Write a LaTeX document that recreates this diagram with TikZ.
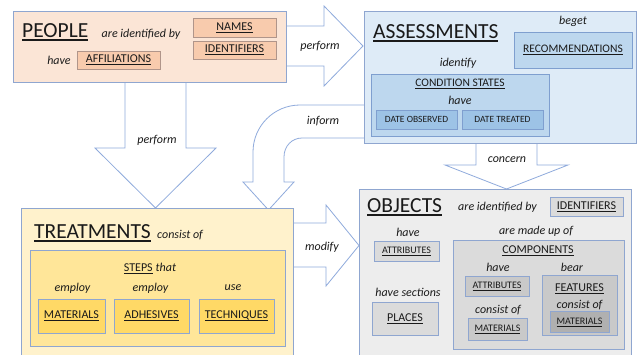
\documentclass[tikz,border=0pt]{standalone}
\usepackage{fontspec}
\setmainfont{Carlito}
\newcommand{\myul}[2][0.55pt]{\setbox0=\hbox{#2}\leavevmode\rlap{\rule[-0.17em]{\wd0}{#1}}\box0}
\newcommand{\fs}[1]{\fontsize{#1}{#1}\selectfont}
\definecolor{txt}{HTML}{1A1A1A}
\definecolor{arw}{HTML}{8FAADC}
\definecolor{bord}{HTML}{8FA6D0}
\definecolor{peach}{HTML}{FBE5D6}
\definecolor{peachin}{HTML}{F8CBAD}
\definecolor{peachbd}{HTML}{B0958A}
\definecolor{blueA}{HTML}{DEEBF7}
\definecolor{blueB}{HTML}{BDD7EE}
\definecolor{blueC}{HTML}{9DC3E6}
\definecolor{blueBd}{HTML}{7F9FCF}
\definecolor{yelA}{HTML}{FFF2CC}
\definecolor{yelB}{HTML}{FFE699}
\definecolor{yelC}{HTML}{FFD966}
\definecolor{greyA}{HTML}{EDEDED}
\definecolor{greyB}{HTML}{DBDBDB}
\definecolor{greyC}{HTML}{C9C9C9}
\definecolor{greyD}{HTML}{B0B0B0}
\begin{document}
\begin{tikzpicture}[x=1pt,y=-1pt,
  outer/.style={draw=bord, line width=0.8pt, anchor=north west, inner sep=0pt},
  item/.style={draw=bord, line width=0.7pt, inner sep=0pt, text=txt, font=\fs{12}},
  small/.style={item, font=\fs{10}},
  lbl/.style={text=txt, inner sep=0pt, font=\fs{12}\itshape},
  title/.style={text=txt, inner sep=0pt, anchor=base west, font=\fs{21.5}},
  blockarrow/.style={fill=white, draw=arw, line width=0.8pt, line join=miter}
]
\useasboundingbox (0,0) rectangle (638,354);
\clip (0,0) rectangle (638,354);
\fill[white] (0,0) rectangle (638,354);

% ---------- block arrows ----------
\draw[blockarrow] (286,26) -- (324,26) -- (324,6) -- (363,46) -- (324,86) -- (324,66) -- (286,66);
\draw[blockarrow] (125,82) -- (125,148) -- (95,148) -- (155.5,208) -- (216,148) -- (186,148) -- (186,82);
\draw[blockarrow] (476,143) -- (476,165) -- (445,165) -- (506.5,189) -- (568,165) -- (537,165) -- (537,143);
\draw[blockarrow] (293,223) -- (326,223) -- (326,205) -- (359,245.5) -- (326,286) -- (326,267) -- (293,267);
\draw[blockarrow] (364,105) -- (300,105) .. controls (274,105) and (253,126) .. (253,152) -- (253,182) -- (243,182) -- (268.5,210) -- (294,182) -- (284,182) -- (284,157) .. controls (284,146) and (292,138) .. (302,138) -- (364,138);

\node[lbl] (lperf1) at (320,46) {perform};
\node[lbl] (lperf2) at (157,140) {perform};
\node[lbl] (lconc) at (507,160) {concern};
\node[lbl] (lmod) at (322,247) {modify};
\node[lbl] (linf) at (323,121) {inform};

% ---------- PEOPLE ----------
\node[outer, fill=peach, minimum width=273pt, minimum height=71pt] (people) at (13,11) {};
\node[title] (peopleT) at (22,37) {\myul[1.2pt]{PEOPLE}};
\node[lbl] (pid) at (141,34) {are identified by};
\node[lbl] (phave) at (59,60) {have};
\node[item, draw=peachbd, fill=peachin, minimum width=83pt, minimum height=19pt] (names) at (234.5,27.5) {\myul{NAMES}};
\node[item, draw=peachbd, fill=peachin, minimum width=83pt, minimum height=18pt] (pident) at (234.5,50) {\myul{IDENTIFIERS}};
\node[item, draw=peachbd, fill=peachin, minimum width=83pt, minimum height=18pt] (affil) at (118.5,60) {\myul{AFFILIATIONS}};

% ---------- ASSESSMENTS ----------
\node[outer, fill=blueA, minimum width=272pt, minimum height=132pt] (assess) at (364,11) {};
\node[title] (assessT) at (373,38) {\myul[1.2pt]{ASSESSMENTS}};
\node[lbl] (beget) at (573,21) {beget};
\node[item, draw=blueBd, fill=blueB, font=\fs{11.5}, minimum width=118pt, minimum height=36pt] (recomm) at (573,50) {\myul{RECOMMENDATIONS}};
\node[lbl] (identify) at (458,63) {identify};
\node[outer, draw=blueBd, fill=blueB, minimum width=178pt, minimum height=62pt] (cond) at (371,74) {};
\node[text=txt, inner sep=0pt, font=\fs{11.5}] (condT) at (460,84) {\myul{CONDITION STATES}};
\node[lbl] (chave) at (460,100) {have};
\node[item, draw=blueBd, fill=blueC, font=\fs{9.5}, minimum width=81pt, minimum height=19pt] (dobs) at (416.5,119.5) {DATE OBSERVED};
\node[item, draw=blueBd, fill=blueC, font=\fs{9.5}, minimum width=81pt, minimum height=19pt] (dtr) at (502.5,119.5) {DATE TREATED};

% ---------- TREATMENTS ----------
\node[outer, fill=yelA, minimum width=272pt, minimum height=160pt] (treat) at (21,208) {};
\node[title] (treatT) at (34,238) {\myul[1.2pt]{TREATMENTS}};
\node[lbl, anchor=base west] (tcons) at (157,238) {consist of};
\node[outer, fill=yelB, minimum width=255pt, minimum height=96pt] (steps) at (30,250) {};
\node[text=txt, inner sep=0pt, font=\fs{12}] (stepsT) at (150,268) {\myul{STEPS}\hspace{0.25em}\textit{that}};
\node[lbl] (emp1) at (72.5,288) {employ};
\node[lbl] (emp2) at (150.5,288) {employ};
\node[lbl] (use) at (233,288) {use};
\node[item, fill=yelC, minimum width=67pt, minimum height=34pt] (tmat) at (71.5,316) {\myul{MATERIALS}};
\node[item, fill=yelC, minimum width=75pt, minimum height=34pt] (tadh) at (151.5,316) {\myul{ADHESIVES}};
\node[item, fill=yelC, minimum width=75pt, minimum height=34pt] (ttech) at (236.5,316) {\myul{TECHNIQUES}};

% ---------- OBJECTS ----------
\node[outer, fill=greyA, minimum width=272pt, minimum height=180pt] (objects) at (359,189) {};
\node[title] (objT) at (367,212) {\myul[1.2pt]{OBJECTS}};
\node[lbl] (oid) at (497.5,207) {are identified by};
\node[item, fill=greyB, minimum width=73pt, minimum height=19pt] (oident) at (586.5,207) {\myul{IDENTIFIERS}};
\node[lbl] (ohave) at (408,232) {have};
\node[small, fill=greyB, minimum width=65pt, minimum height=20pt] (oattr) at (406.5,251) {\myul{ATTRIBUTES}};
\node[lbl] (osect) at (408,292) {have sections};
\node[item, fill=greyB, minimum width=66pt, minimum height=33pt] (places) at (405,318.5) {\myul{PLACES}};
\node[lbl] (omade) at (536,231) {are made up of};
\node[outer, fill=greyB, minimum width=171pt, minimum height=109pt] (comp) at (453,240) {};
\node[text=txt, inner sep=0pt, font=\fs{12}] (compT) at (538,251) {\myul{COMPONENTS}};
\node[lbl] (chave2) at (498,267) {have};
\node[lbl] (cbear) at (572,267) {bear};
\node[small, fill=greyC, minimum width=64pt, minimum height=20pt] (cattr) at (497,286) {\myul{ATTRIBUTES}};
\node[lbl] (ccons) at (498,310) {consist of};
\node[small, fill=greyC, minimum width=59pt, minimum height=22pt] (cmat) at (497.5,329) {\myul{MATERIALS}};
\node[outer, fill=greyC, minimum width=75pt, minimum height=60pt] (feat) at (542,275) {};
\node[text=txt, inner sep=0pt, font=\fs{12}] (featT) at (579.5,289) {\myul{FEATURES}};
\node[lbl] (fcons) at (579.5,305) {consist of};
\node[small, fill=greyD, minimum width=59pt, minimum height=21pt] (fmat) at (579.5,322) {\myul{MATERIALS}};
\end{tikzpicture}
\end{document}
